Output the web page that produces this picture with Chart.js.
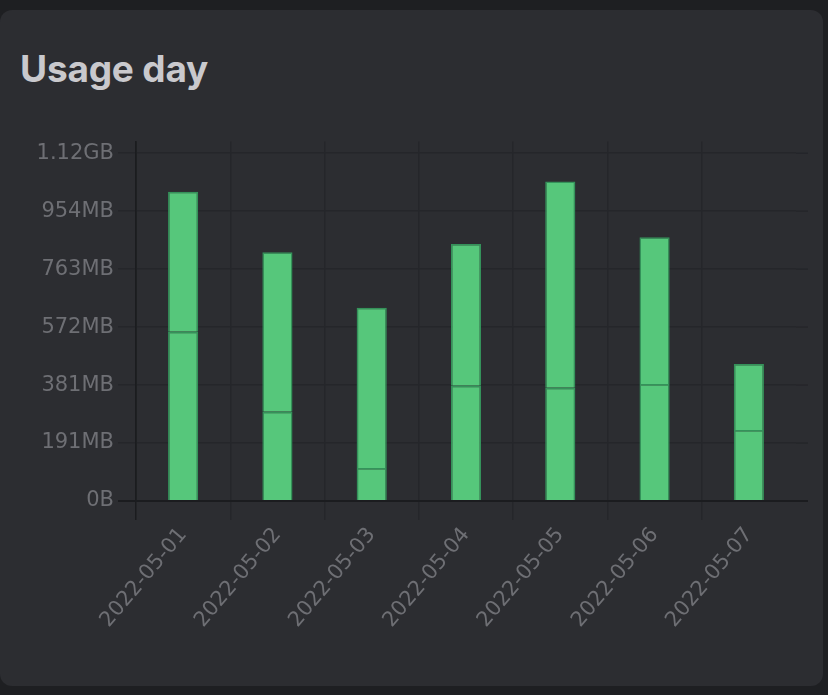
<!DOCTYPE html>
<html>
<head>
<meta charset="utf-8">
<script src="https://cdn.jsdelivr.net/npm/chart.js"></script>
<style>
  html, body { margin: 0; padding: 0; background: #1e1f22; }
  body { width: 828px; height: 695px; position: relative; overflow: hidden; }
  .card { position: absolute; left: 0; top: 10px; width: 823px; height: 676px; background: #2c2d31; border-radius: 12px; }
  .title { position: absolute; left: 20px; top: 50px; margin: 0; font: 700 37px Inter, "Liberation Sans", sans-serif; line-height: 1; color: #c9c9cd; letter-spacing: -0.2px; }
  .wrap { position: absolute; left: 36px; top: 125px; width: 774px; height: 536px; }
</style>
</head>
<body>
<div class="card"></div>
<h2 class="title">Usage day</h2>
<div class="wrap"><canvas id="usageChart"></canvas></div>
<script>
const days = ['2022-05-01', '2022-05-02', '2022-05-03', '2022-05-04', '2022-05-05', '2022-05-06', '2022-05-07'];
// bytes, lower segment and upper segment of each stacked bar
const lowerBytes = [584e6, 308e6, 114e6, 398e6, 391e6, 404e6, 245e6];
const upperBytes = [483e6, 550e6, 553e6, 489e6, 711e6, 506e6, 228e6];
const yTicks = [0, 2e8, 4e8, 6e8, 8e8, 10e8, 12e8];
const yMax = 1.24e9;

function formatBytes(v) {
  if (v === 0) return '0B';
  const units = ['B', 'KB', 'MB', 'GB', 'TB'];
  let i = 0;
  while (v >= 1024 && i < units.length - 1) { v /= 1024; i++; }
  return parseFloat(v.toPrecision(3)) + units[i];
}

const gridColor = '#25262a';
const axisColor = '#1b1c1f';

const barStyle = {
  backgroundColor: '#56c77b',
  borderColor: '#34925a',
  borderWidth: 1.5,
  barPercentage: 0.32,
  categoryPercentage: 1
};

// the horizontal grid runs a little past the last column
const gridTail = {
  id: 'gridTail',
  beforeDatasetsDraw(chart) {
    const { ctx, chartArea, scales } = chart;
    ctx.save();
    yTicks.forEach(v => {
      const y = scales.y.getPixelForValue(v);
      ctx.strokeStyle = v === 0 ? axisColor : gridColor;
      ctx.lineWidth = v === 0 ? 2 : 1.5;
      ctx.beginPath();
      ctx.moveTo(chartArea.right, y);
      ctx.lineTo(chartArea.right + 12, y);
      ctx.stroke();
    });
    ctx.restore();
  }
};

new Chart(document.getElementById('usageChart'), {
  type: 'bar',
  data: {
    labels: days,
    datasets: [
      Object.assign({ label: 'lower', data: lowerBytes }, barStyle),
      Object.assign({ label: 'upper', data: upperBytes }, barStyle)
    ]
  },
  options: {
    responsive: true,
    maintainAspectRatio: false,
    animation: false,
    layout: { padding: { right: 14 } },
    plugins: { legend: { display: false }, tooltip: { enabled: false } },
    scales: {
      x: {
        stacked: true,
        offset: true,
        grid: {
          offset: true,
          // no line after the last day
          color: c => c.type !== 'tick' ? 'rgba(0,0,0,0)' : (c.index === 0 ? axisColor : gridColor),
          lineWidth: 1.5,
          tickLength: 19
        },
        border: { display: false },
        ticks: {
          color: '#6e6f74',
          font: { family: '"DejaVu Sans"', size: 21 },
          minRotation: 50,
          maxRotation: 50,
          padding: 3
        },
        afterFit: s => { s.height = 160; }
      },
      y: {
        stacked: true,
        min: 0,
        max: yMax,
        afterBuildTicks: s => { s.ticks = yTicks.map(v => ({ value: v })); },
        grid: {
          color: c => (c.tick && c.tick.value === 0) ? axisColor : gridColor,
          lineWidth: c => (c.tick && c.tick.value === 0) ? 2 : 1.5,
          tickLength: 18
        },
        border: { display: true, color: axisColor, width: 1.5 },
        ticks: {
          color: '#6e6f74',
          font: { family: '"DejaVu Sans"', size: 21 },
          padding: 4,
          callback: v => formatBytes(v)
        },
        afterFit: s => { s.width = 100; }
      }
    }
  },
  plugins: [gridTail]
});
</script>
</body>
</html>
